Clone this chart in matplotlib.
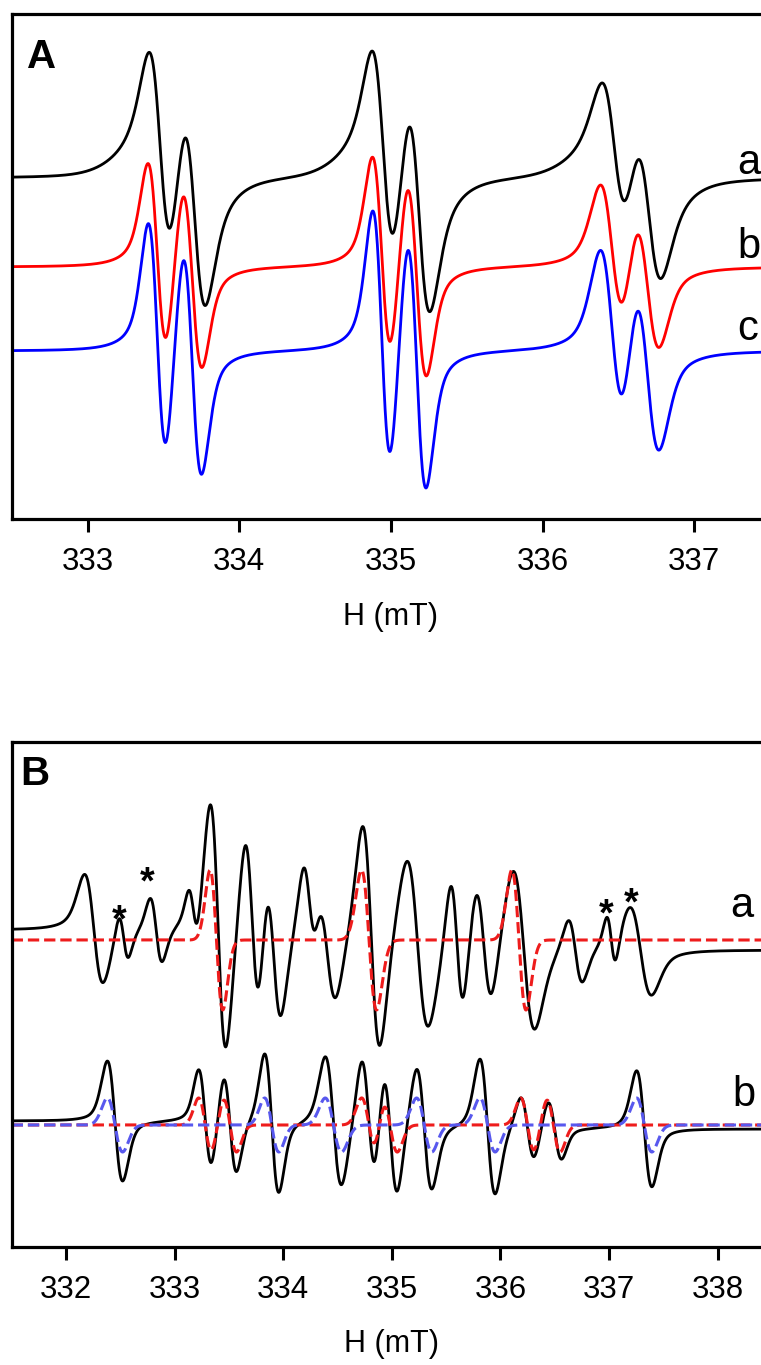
import numpy as np
import matplotlib
matplotlib.use('Agg')
import matplotlib.pyplot as plt

plt.rcParams['font.family'] = ['Liberation Sans', 'DejaVu Sans']

# ---- panel A: three spectra, two lines per nitrogen group ----
A_CENTERS_A = [333.48, 333.705, 334.95, 335.185, 336.475, 336.70]
A_HEIGHTS_A = [104, 105, 106, 112, 76, 80]
A_WIDTHS_A = [0.15, 0.15, 0.15, 0.15, 0.17, 0.17]
A_BROAD_A_CENTERS = [333.51, 334.98, 336.505]   # weak broad component in a
A_BROAD_A_HEIGHTS = [11, 11, 9]
A_BROAD_A_WIDTHS = [0.4, 0.4, 0.42]
A_CENTERS_B = [333.46, 333.69, 334.94, 335.17, 336.46, 336.69]
A_HEIGHTS_B = [97, 95, 103, 103, 75, 73]
A_WIDTHS_B = [0.125, 0.13, 0.125, 0.13, 0.16, 0.16]
A_CENTERS_C = [333.46, 333.69, 334.94, 335.17, 336.46, 336.69]
A_HEIGHTS_C = [120, 117, 132, 130, 92, 90]
A_WIDTHS_C = [0.12, 0.125, 0.12, 0.125, 0.16, 0.16]
A_BASE = [341, 252, 168]          # a, b, c baselines
A_ETA = [0.7, 0.5, 0.5]           # lorentzian fraction

# ---- panel B: experimental a, b and simulations ----
B_A_CENTERS = [332.256, 332.53, 332.83, 333.172, 333.40, 333.715, 333.91, 334.24, 334.40,
               334.81, 335.237, 335.60, 335.846, 336.215, 336.69, 337.02, 337.29]
B_A_HEIGHTS = [55, 24, 33, 28, 127, 95, 78, 55, 65, 115, 88, 67, 60, 82, 33, 27, 45]
B_A_WIDTHS = [0.17, 0.09, 0.11, 0.09, 0.145, 0.135, 0.14, 0.12, 0.17,
              0.16, 0.20, 0.12, 0.147, 0.20, 0.13, 0.085, 0.20]
B_A_BROAD = (335.0, 10, 7.0)

SIM_A_CENTERS = [333.385, 334.79, 336.17]
SIM_A_HEIGHTS = [70, 70, 70]
SIM_A_WIDTHS = [0.117, 0.138, 0.13]

SIM_B_RED_CENTERS = [333.281, 333.51, 334.787, 334.985, 336.249, 336.487]
SIM_B_RED_HEIGHTS = [27, 27, 27, 27, 27, 27]
SIM_B_RED_WIDTHS = [0.12, 0.12, 0.13, 0.13, 0.125, 0.125]
SIM_B_BLUE_CENTERS = [332.451, 333.894, 334.462, 335.298, 335.881, 337.324]
SIM_B_BLUE_HEIGHTS = [27, 27, 27, 27, 27, 27]
SIM_B_BLUE_WIDTHS = [0.14, 0.13, 0.15, 0.14, 0.14, 0.14]

# experimental b: same line positions, own heights
EXP_B_RED_CENTERS = [333.281, 333.51, 334.787, 334.985, 336.249, 336.50]
EXP_B_RED_HEIGHTS = [50, 50, 64, 67, 32, 30]
EXP_B_BLUE_HEIGHTS = [60, 70, 66, 62, 68, 58]
B_B_BROAD = (335.0, 4, 7.0)

B_BASE = [306.7, 121.7]
STARS_X = [332.49, 332.745, 336.975, 337.205]
STARS_Y = [336.7, 374.0, 342.7, 353.4]


def deriv(x, c, h, w, eta):
    sig = w / 2.0
    t = (x - c) / sig
    g = -t * np.exp(-t ** 2 / 2) / np.exp(-0.5)
    gam = np.sqrt(3) / 2 * w
    u = (x - c) / gam
    l = -u / (1 + u ** 2) ** 2 / (3 * np.sqrt(3) / 16)
    return h * (eta * l + (1 - eta) * g)


def spectrum(x, centers, heights, widths, eta):
    y = np.zeros_like(x)
    for c, h, w in zip(centers, heights, widths):
        y += deriv(x, c, h, w, eta)
    return y


fig = plt.figure(figsize=(7.61, 13.65), dpi=100)
W, H = 761.0, 1365.0

def make_ax(left, top, right, bottom):
    ax = fig.add_axes([left / W, 1 - bottom / H, (right - left) / W, (bottom - top) / H])
    for s in ['left', 'top', 'bottom']:
        ax.spines[s].set_linewidth(2.3)
    ax.spines['right'].set_visible(False)
    ax.set_yticks([])
    ax.tick_params(axis='x', direction='out', length=9.5, width=2.2, pad=11, labelsize=22.5)
    return ax

# panel A
axA = make_ax(11.7, 13.5, 770, 519)
xa = np.linspace(332.5, 337.5, 3000)
colors = ['black', '#ff0000', '#0000ff']
specs = [(A_CENTERS_A, A_HEIGHTS_A, A_WIDTHS_A),
         (A_CENTERS_B, A_HEIGHTS_B, A_WIDTHS_B),
         (A_CENTERS_C, A_HEIGHTS_C, A_WIDTHS_C)]
for i, ((cs, hs, ws), base, eta, col) in enumerate(zip(specs, A_BASE, A_ETA, colors)):
    y = base + spectrum(xa, cs, hs, ws, eta)
    if i == 0:
        y += spectrum(xa, A_BROAD_A_CENTERS, A_BROAD_A_HEIGHTS, A_BROAD_A_WIDTHS, 0.0)
    axA.plot(xa, y, color=col, lw=2.0)
axA.set_xlim(332.5, 337.5)
axA.set_ylim(0, 505.5)
axA.set_xticks([333, 334, 335, 336, 337])
axA.set_xlabel('H (mT)', fontsize=22, labelpad=18)
for lab, yb in zip(['a', 'b', 'c'], [345, 260.5, 179]):
    axA.text(337.284, yb, lab, fontsize=30, ha='left', va='baseline')
fig.text(27 / W, 1 - 67.5 / H, 'A', fontsize=29, fontweight='bold', ha='left', va='baseline')

# panel B
axB = make_ax(11.7, 741.7, 772, 1246.7)
xb = np.linspace(331.5, 338.5, 4000)
ya = B_BASE[0] + spectrum(xb, B_A_CENTERS, B_A_HEIGHTS, B_A_WIDTHS, 0.5) \
    + deriv(xb, *B_A_BROAD, 1.0)
axB.plot(xb, ya, color='black', lw=2.0)
axB.plot(xb, B_BASE[0] + spectrum(xb, SIM_A_CENTERS, SIM_A_HEIGHTS, SIM_A_WIDTHS, 0.0),
         color='#ee1c1c', lw=2.2, ls='--')

yb_exp = B_BASE[1] + spectrum(xb, EXP_B_RED_CENTERS, EXP_B_RED_HEIGHTS, SIM_B_RED_WIDTHS, 0.35) \
    + spectrum(xb, SIM_B_BLUE_CENTERS, EXP_B_BLUE_HEIGHTS, SIM_B_BLUE_WIDTHS, 0.35) \
    + deriv(xb, *B_B_BROAD, 1.0)
axB.plot(xb, yb_exp, color='black', lw=2.0)
axB.plot(xb, B_BASE[1] + spectrum(xb, SIM_B_RED_CENTERS, SIM_B_RED_HEIGHTS, SIM_B_RED_WIDTHS, 0.0),
         color='#ee1c1c', lw=2.2, ls='--')
axB.plot(xb, B_BASE[1] + spectrum(xb, SIM_B_BLUE_CENTERS, SIM_B_BLUE_HEIGHTS, SIM_B_BLUE_WIDTHS, 0.0),
         color='#5858ee', lw=2.2, ls='--')

for sx, sy in zip(STARS_X, STARS_Y):
    axB.text(sx, sy - 21, '*', fontsize=27, fontweight='bold', ha='center', va='baseline')

axB.set_xlim(331.5, 338.5)
axB.set_ylim(0, 505)
axB.set_xticks([332, 333, 334, 335, 336, 337, 338])
axB.set_xlabel('H (mT)', fontsize=22, labelpad=17)
axB.text(338.114, 329.4, 'a', fontsize=30, ha='left', va='baseline')
axB.text(338.139, 140.7, 'b', fontsize=30, ha='left', va='baseline')
fig.text(20 / W, 1 - 785 / H, 'B', fontsize=29, fontweight='bold', ha='left', va='baseline')

fig.savefig('out.png', dpi=100)
